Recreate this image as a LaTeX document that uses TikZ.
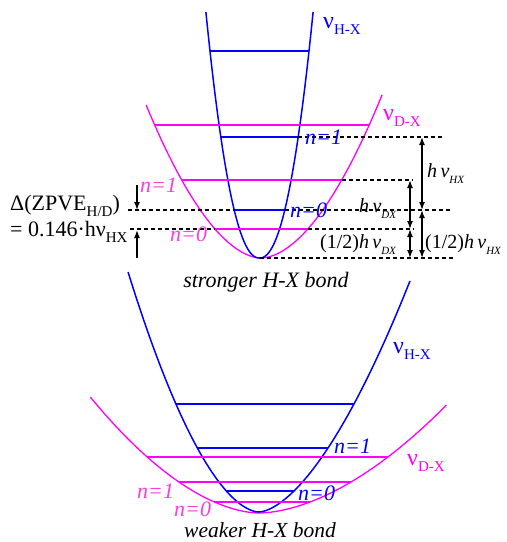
\documentclass[tikz,border=0pt]{standalone}
\usepackage{fontspec}
\setmainfont{Liberation Serif}
\usetikzlibrary{arrows.meta}
\definecolor{hb}{RGB}{0,0,255}
\definecolor{dm}{RGB}{255,0,255}
\definecolor{dmt}{RGB}{255,60,220}
\newcommand\lowsub[2][14]{\raisebox{-0.3em}{\fontsize{#1}{#1}\selectfont #2}}
\newcommand\bignu{{\fontsize{24}{24}\selectfont ν}}
\begin{document}
\begin{tikzpicture}[x=1pt,y=-1pt,
 bcurve/.style={hb, line width=1.5pt},
 mcurve/.style={dm, line width=1.3pt},
 blev/.style={hb, line width=1.5pt},
 mlev/.style={dm, line width=1.5pt},
 guide/.style={black, dash pattern=on 4pt off 3pt, line width=1.4pt},
 dim/.style={black, line width=1.5pt, {Latex[length=8pt,width=6pt]}-{Latex[length=8pt,width=6pt]}},
 onearrow/.style={black, line width=1.5pt, -{Latex[length=8pt,width=6pt]}},
 lbl/.style={inner sep=0pt, anchor=base west, font=\fontsize{20}{22}\selectfont},
 nlbl/.style={lbl, font=\fontsize{22}{24}\selectfont\itshape},
 bond/.style={inner sep=0pt, anchor=base, font=\fontsize{22}{24}\selectfont\itshape},
]
\useasboundingbox (0,0) rectangle (507,542);
% ---------- top: stronger bond ----------
% blue H-X well: x = 259.5 -/+ 4.26 d^0.46, bottom at y = 258
\coordinate (tbMin) at (259.5,258);
\coordinate (tb2L) at ({259.5-4.26*pow(207,0.46)},51);
\coordinate (tb2R) at ({259.5+4.26*pow(207,0.46)},51);
\coordinate (tb1L) at ({259.5-4.26*pow(121,0.46)},137);
\coordinate (tb1R) at ({259.5+4.26*pow(121,0.46)},137);
\coordinate (tb0L) at ({259.5-4.26*pow(48,0.46)},210);
\coordinate (tb0R) at ({259.5+4.26*pow(48,0.46)},210);
% magenta D-X well: x = 261 - 7.22 d^0.55 (left), 261 + 7.35 d^0.55 (right)
\coordinate (tmMin) at (261,258);
\coordinate (tm2L) at ({261-7.22*pow(133,0.55)},125);
\coordinate (tm2R) at ({261+7.35*pow(133,0.55)},125);
\coordinate (tm1L) at ({261-7.22*pow(78,0.55)},180);
\coordinate (tm1R) at ({261+7.35*pow(78,0.55)},180);
\coordinate (tm0L) at ({261-7.22*pow(29,0.55)},229);
\coordinate (tm0R) at ({261+7.35*pow(29,0.55)},229);
\draw[mcurve] plot[domain=12.37:0.01, samples=70] ({261-7.22*pow(\x,1.1)}, {258-\x*\x})
  -- plot[domain=0.01:12.77, samples=70] ({261+7.35*pow(\x,1.1)}, {258-\x*\x});
\draw[bcurve] plot[domain=15.68:0.01, samples=80] ({259.5-4.26*pow(\x,0.92)}, {258-\x*\x})
  -- plot[domain=0.01:15.68, samples=80] ({259.5+4.26*pow(\x,0.92)}, {258-\x*\x});
\draw[mlev] (tm2L) -- (tm2R);
\draw[mlev] (tm1L) -- (tm1R);
\draw[mlev] (tm0L) -- (tm0R);
\draw[blev] (tb2L) -- (tb2R);
\draw[blev] (tb1L) -- (tb1R);
\draw[blev] (tb0L) -- (tb0R);
% dashed guides
\coordinate (g1e) at (445,137);
\coordinate (g2e) at (413,180);
\coordinate (g3s) at (128,210); \coordinate (g3e) at (452,210);
\coordinate (g4s) at (130,229); \coordinate (g4e) at (413,229);
\coordinate (g5e) at (455,258);
\draw[guide] (tb1R) -- (g1e);
\draw[guide] (tm1R) -- (g2e);
\draw[guide] (g3s) -- (tb0L);
\draw[guide] (tb0R) -- (g3e);
\draw[guide] (g4s) -- (tm0L);
\draw[guide] (tm0R) -- (g4e);
\draw[guide] (tbMin) -- (g5e);
% dimension arrows
\coordinate (aH1) at (422,137); \coordinate (aH0) at (422,210); \coordinate (aHm) at (422,258);
\coordinate (aD1) at (410,180); \coordinate (aD0) at (410,229); \coordinate (aDm) at (410,258);
\draw[dim] (aH1) -- (aH0);
\draw[dim] (aH0) -- (aHm);
\draw[dim] (aD1) -- (aD0);
\draw[dim] (aD0) -- (aDm);
\coordinate (zA) at (137,185); \coordinate (zAe) at (137,210);
\coordinate (zB) at (137,258); \coordinate (zBe) at (137,230);
\draw[onearrow] (zA) -- (zAe);
\draw[onearrow] (zB) -- (zBe);
% labels
\node[lbl, text=hb] (lHXt) at (323,28) {\bignu\lowsub[15]{H-X}};
\node[lbl, text=dm] (lDXt) at (383,120) {\bignu\lowsub[15]{D-X}};
\node[nlbl, text=hb] (n1bt) at (305,144) {n=1};
\node[nlbl, text=hb] (n0bt) at (290,217) {n=0};
\node[nlbl, text=dmt] (n1mt) at (140,192) {n=1};
\node[nlbl, text=dmt] (n0mt) at (170,241) {n=0};
\node[lbl] (hHX) at (427,177) {\textit{h}\,\textit{ν}\lowsub[11]{\textit{HX}}};
\node[lbl] (hDX) at (359,212) {\textit{h}\,\textit{ν}\lowsub[11]{\textit{DX}}};
\node[lbl] (hhDX) at (320,248) {(1/2)\textit{h}\,\textit{ν}\lowsub[11]{\textit{DX}}};
\node[lbl] (hhHX) at (425,248) {(1/2)\textit{h}\,\textit{ν}\lowsub[11]{\textit{HX}}};
\node[lbl, font=\fontsize{22}{24}\selectfont] (zp1) at (10,210) {Δ(ZPVE\lowsub[15]{H/D})};
\node[lbl, font=\fontsize{22}{24}\selectfont] (zp2) at (10,236) {= 0.146·hν\lowsub[15]{HX}};
\node[bond] (strong) at (266,287) {stronger H-X bond};
% ---------- bottom: weaker bond ----------
% blue: left x = 259 - 5.76 d^0.57, right x = 259 + 5.46 d^0.61, bottom y = 512
\coordinate (bbMin) at (259,512);
\coordinate (bb2L) at ({259-5.76*pow(108,0.57)},404);
\coordinate (bb2R) at ({259+5.46*pow(108,0.61)},404);
\coordinate (bb1L) at ({259-5.76*pow(64,0.57)},448);
\coordinate (bb1R) at ({259+5.46*pow(64,0.61)},448);
\coordinate (bb0L) at ({259-5.76*pow(21,0.57)},491);
\coordinate (bb0R) at ({259+5.46*pow(21,0.61)},491);
% magenta: left x = 259 - 11.5 d^0.565, right x = 259 + 13 d^0.57, bottom y = 513
\coordinate (bmMin) at (259,513);
\coordinate (bm2L) at ({259-11.5*pow(56,0.565)},457);
\coordinate (bm2R) at ({259+13*pow(56,0.57)},457);
\coordinate (bm1L) at ({259-11.5*pow(31,0.565)},482);
\coordinate (bm1R) at ({259+13*pow(31,0.57)},482);
\coordinate (bm0L) at ({259-11.5*pow(11,0.565)},502);
\coordinate (bm0R) at ({259+13*pow(11,0.57)},502);
\draw[mcurve] plot[domain=10.77:0.01, samples=70] ({259-11.5*pow(\x,1.13)}, {513-\x*\x})
  -- plot[domain=0.01:10.39, samples=70] ({259+13*pow(\x,1.14)}, {513-\x*\x});
\draw[bcurve] plot[domain=15.49:0.01, samples=80] ({259-5.76*pow(\x,1.14)}, {512-\x*\x})
  -- plot[domain=0.01:15.2, samples=80] ({259+5.46*pow(\x,1.22)}, {512-\x*\x});
\draw[mlev] (bm2L) -- (bm2R);
\draw[mlev] (bm1L) -- (bm1R);
\draw[mlev] (bm0L) -- (bm0R);
\draw[blev] (bb2L) -- (bb2R);
\draw[blev] (bb1L) -- (bb1R);
\draw[blev] (bb0L) -- (bb0R);
\node[lbl, text=hb] (lHXb) at (393,353) {\bignu\lowsub[15]{H-X}};
\node[lbl, text=dm] (lDXb) at (407,465) {\bignu\lowsub[15]{D-X}};
\node[nlbl, text=hb] (n1bb) at (334,453) {n=1};
\node[nlbl, text=hb] (n0bb) at (298,500) {n=0};
\node[nlbl, text=dmt] (n1mb) at (137,498) {n=1};
\node[nlbl, text=dmt] (n0mb) at (174,516) {n=0};
\node[bond, font=\fontsize{21.5}{23}\selectfont\itshape] (weak) at (260,537) {weaker H-X bond};
\end{tikzpicture}
\end{document}
